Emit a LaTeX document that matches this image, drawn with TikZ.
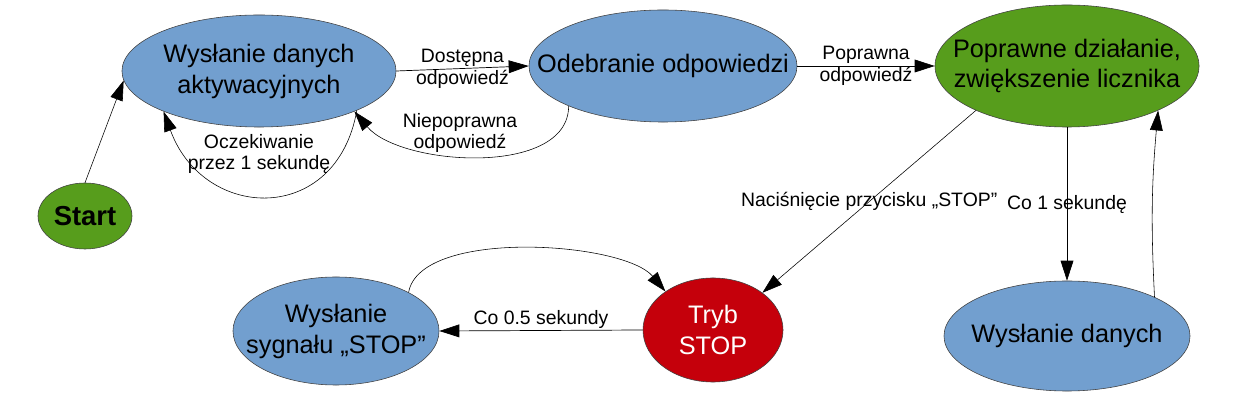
\documentclass[tikz,border=0pt]{standalone}
\usepackage{fontspec}
\setmainfont{Liberation Sans}
\usepackage{tikz}
\usetikzlibrary{arrows.meta, shapes.geometric}
\definecolor{stateblue}{HTML}{729FCF}
\definecolor{stategreen}{HTML}{579D1C}
\definecolor{statered}{HTML}{C5000B}
\tikzset{
    state/.style={ellipse, draw=black!75, line width=0.4pt, inner sep=0pt},
    statetext/.style={align=center, inner sep=0pt, font=\fontsize{18}{22}\selectfont},
    lbl/.style={align=center, inner sep=1pt, font=\fontsize{13.8}{15.6}\selectfont},
    arrow/.style={line width=0.5pt, -{Triangle[length=0.5cm, width=0.32cm]}}
}
\begin{document}
\begin{tikzpicture}[
    x=0.025cm, y=0.025cm,
    softarrow/.style={arrow, line width=0.4pt}
]
    \useasboundingbox (0,0) rectangle (1236,420);

    \node[state, fill=stategreen, minimum width=2.35cm, minimum height=1.65cm,
          label={[statetext, font=\fontsize{19.5}{22}\selectfont\bfseries]center:Start}] (start) at (85,204) {};
    \node[state, fill=stateblue, minimum width=6.85cm, minimum height=2.8cm,
          label={[statetext]center:Wysłanie danych\\aktywacyjnych}] (aktyw) at (259,349) {};
    \node[state, fill=stateblue, minimum width=6.7cm, minimum height=2.8cm,
          label={[statetext]center:Odebranie odpowiedzi}] (odebr) at (663,354) {};
    \node[state, fill=stategreen, minimum width=6.6cm, minimum height=3.05cm,
          label={[statetext]center:Poprawne działanie,\\zwiększenie licznika}] (popr) at (1067,354) {};
    \node[state, fill=statered, minimum width=3.5cm, minimum height=2.6cm,
          label={[statetext, text=white]center:Tryb\\STOP}] (tryb) at (713,90) {};
    \node[state, fill=stateblue, minimum width=5.15cm, minimum height=2.7cm,
          label={[statetext]center:Wysłanie\\sygnału „STOP”}] (wss) at (336,89) {};
    \node[state, fill=stateblue, minimum width=6.15cm, minimum height=2.75cm,
          label={[statetext]center:Wysłanie danych}] (wdan) at (1067,84) {};

    \node[lbl] (lwait) at (259,266) {Oczekiwanie\\przez 1 sekundę};
    \node[lbl] (lniep) at (460,287) {Niepoprawna\\odpowiedź};

    \draw[softarrow] (start.north) -- (aktyw.184);
    \draw[arrow] (aktyw.east) -- node[lbl] {Dostępna\\odpowiedź} (odebr.west);
    \draw[softarrow] (odebr.203) to[out=-90, in=-50, looseness=0.85] (aktyw.337);
    \draw[softarrow] (aktyw.338) to[out=-100, in=-70, looseness=1.55] (aktyw.203);
    \draw[arrow] (odebr.east) -- node[lbl] {Poprawna\\odpowiedź} (popr.west);
    \draw[softarrow] (popr.206) -- node[lbl] {Naciśnięcie przycisku „STOP”} (tryb.37);
    \draw[arrow] (popr.south) -- node[lbl] {Co 1 sekundę} (wdan.north);
    \draw[softarrow] (wdan.24) to[bend left=4] (popr.334);
    \draw[arrow] (tryb.west) -- node[lbl, above] {Co 0.5 sekundy} (wss.east);
    \draw[softarrow] (wss.28) to[out=80, in=130, looseness=0.65] (tryb.141);
\end{tikzpicture}
\end{document}
